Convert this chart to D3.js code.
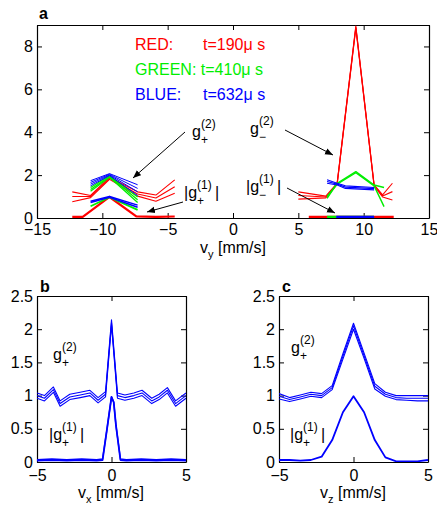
<!DOCTYPE html>
<html><head><meta charset="utf-8">
<script src="https://cdn.jsdelivr.net/npm/d3@7"></script>
<style>
body{margin:0;background:#fff}
text{font-family:"Liberation Sans",Arial,Helvetica,sans-serif}
</style>
</head><body>
<svg id="chart" width="437" height="506"></svg>
<script>
// ---------- Panel a data ----------
const aXTicks = [-15, -10, -5, 0, 5, 10, 15];
const aYTicks = [0, 2, 4, 6, 8];
// left cluster (g+)
const redLeftG2X = [-12.3, -10.9, -9.45, -7.3, -5.9, -4.46];
const redLeftG2 = [
  [1.22, 1.05, 1.90, 1.22, 1.07, 1.78],
  [1.00, 1.00, 1.85, 1.12, 0.93, 1.46],
  [0.76, 0.95, 1.80, 1.02, 0.78, 1.15]
];
const redLeftG1X = [-12.3, -11.5, -9.45, -7.4, -5.9, -4.46];
const redLeftG1 = [0.05, 0.05, 0.98, 0.08, 0.05, 0.07];
const clLeftX = [-10.9, -9.45, -7.3];
const greenLeftG2 = [
  [1.42, 1.97, 0.98],
  [1.33, 1.93, 0.85],
  [1.25, 1.90, 0.72]
];
const greenLeftG1 = [0.55, 0.97, 0.38];
const blueLeftG2 = [
  [1.74, 2.07, 1.55],
  [1.66, 2.04, 1.38],
  [1.58, 2.01, 1.22],
  [1.50, 1.98, 1.05]
];
const blueLeftG1 = [
  [0.78, 1.00, 0.60],
  [0.72, 0.97, 0.50]
];
// right cluster (g-)
const redRightG2X = [5.0, 7.1, 7.97, 9.4, 10.8, 11.45, 12.2];
const redRightG2 = [
  [1.22, 1.02, 1.63, 8.95, 1.55, 1.08, 1.62],
  [1.05, 0.98, 1.60, 8.90, 1.52, 1.03, 1.23],
  [0.88, 0.94, 1.57, 8.85, 1.49, 0.98, 0.84]
];
const greenRightG2X = [7.2, 7.97, 9.4, 10.8, 11.56];
const greenRightG2 = [
  [0.92, 1.62, 2.16, 1.54, 1.42],
  [1.00, 1.58, 2.11, 1.50, 0.53]
];
const blueRightG2X = [7.2, 7.97, 8.6, 10.8];
const blueRightG2 = [
  [1.78, 1.62, 1.50, 1.42],
  [1.70, 1.58, 1.44, 1.37],
  [1.62, 1.54, 1.38, 1.31]
];
const redRightG1X = [5.8, 12.3];
const redRightG1 = [0.04, 0.04];
const greenRightG1X = [7.2, 10.8];
const greenRightG1 = [0.04, 0.04];
const blueRightG1X = [7.9, 10.8];
const blueRightG1 = [0.04, 0.04];

// ---------- Panel b data ----------
const bcXTicks = [-5, 0, 5];
const bcYTicks = [0, 0.5, 1, 1.5, 2, 2.5];
const bcYLabels = ["0", "0.5", "1", "1.5", "2", "2.5"];
const bG2X = [-5, -4.5, -3.9, -3.45, -2.8, -2.1, -1.45, -0.9, -0.4, 0, 0.4, 0.9, 1.5, 2.05, 2.7, 3.2, 3.75, 4.3, 5];
const bG2 = [1.0, 0.96, 1.09, 0.88, 0.98, 1.01, 1.04, 0.93, 1.02, 2.1, 1.0, 0.97, 1.0, 1.04, 0.92, 0.98, 1.08, 0.88, 1.0];
const bG2Offsets = [0.04, 0, -0.04];
const bG1X = [-5, -4, -3, -2, -1, -0.6, -0.3, 0, 0.15, 0.3, 0.6, 1, 2, 3, 4, 5];
const bG1 = [0.02, 0.03, 0.02, 0.03, 0.02, 0.03, 0.5, 0.98, 0.9, 0.55, 0.03, 0.02, 0.03, 0.02, 0.03, 0.02];

// ---------- Panel c data ----------
const cX = [-5, -4.29, -3.57, -2.86, -2.14, -1.43, -0.71, 0, 0.71, 1.43, 2.14, 2.86, 3.57, 4.29, 5];
const cG2 = [
  [1.03, 0.97, 1.01, 1.05, 1.03, 1.15, 1.63, 2.09, 1.64, 1.18, 1.05, 1.00, 1.00, 1.00, 1.00],
  [0.99, 0.94, 0.98, 1.02, 1.00, 1.12, 1.59, 2.05, 1.60, 1.14, 1.02, 0.97, 0.96, 0.96, 0.96],
  [0.95, 0.91, 0.95, 0.99, 0.97, 1.09, 1.55, 2.00, 1.56, 1.10, 0.99, 0.94, 0.93, 0.92, 0.92]
];
const cG1 = [0.03, 0.03, 0.02, 0.03, 0.08, 0.33, 0.75, 0.99, 0.75, 0.33, 0.07, 0.01, 0.01, 0.01, 0.03];

const RED = "#ff0000", GREEN = "#00ee00", BLUE = "#0000ff";
const svg = d3.select("#chart");

function makePanel(box, xd, yd, xticks, yticks, ylabels, xpad) {
  const x = d3.scaleLinear().domain(xd).range([box.x0, box.x1]);
  const y = d3.scaleLinear().domain(yd).range([box.y1, box.y0]);
  const g = svg.append("g");
  const clipId = "clip" + Math.round(box.x0) + "_" + Math.round(box.y0);
  svg.append("clipPath").attr("id", clipId).append("rect")
    .attr("x", box.x0).attr("y", box.y0).attr("width", box.x1 - box.x0).attr("height", box.y1 - box.y0);
  const plot = svg.append("g").attr("clip-path", `url(#${clipId})`);
  const fmt = ylabels ? (d, i) => ylabels[i] : d3.format("~g");
  const styleAxis = sel => {
    sel.selectAll("path.domain").attr("stroke", "#000").attr("stroke-width", 1.2);
    sel.selectAll(".tick line").attr("stroke", "#000").attr("stroke-width", 1);
    sel.selectAll("text").attr("font-size", 16).attr("fill", "#000")
      .style("font-family", '"Liberation Sans",Arial,sans-serif');
  };
  const axB = g.append("g").attr("transform", `translate(0,${box.y1})`)
    .call(d3.axisBottom(x).tickValues(xticks).tickSizeInner(-5).tickSizeOuter(0).tickPadding(xpad).tickFormat(d3.format("~g")));
  styleAxis(axB);
  const axT = g.append("g").attr("transform", `translate(0,${box.y0})`)
    .call(d3.axisTop(x).tickValues(xticks).tickSizeInner(-5).tickSizeOuter(0).tickFormat(""));
  styleAxis(axT);
  const axL = g.append("g").attr("transform", `translate(${box.x0},0)`)
    .call(d3.axisLeft(y).tickValues(yticks).tickSizeInner(-5).tickSizeOuter(0).tickPadding(4).tickFormat(fmt));
  styleAxis(axL);
  const axR = g.append("g").attr("transform", `translate(${box.x1},0)`)
    .call(d3.axisRight(y).tickValues(yticks).tickSizeInner(-5).tickSizeOuter(0).tickFormat(""));
  styleAxis(axR);
  return {x, y, plot};
}

function drawLine(p, xs, ys, color, width) {
  const line = d3.line().x(d => p.x(d[0])).y(d => p.y(d[1]));
  p.plot.append("path").datum(xs.map((v, i) => [v, ys[i]]))
    .attr("d", line).attr("fill", "none").attr("stroke", color)
    .attr("stroke-width", width).attr("stroke-linejoin", "round");
}

// ---------- Panel a ----------
const pa = makePanel({x0: 37, x1: 429, y0: 25, y1: 218}, [-15, 15], [0, 9], aXTicks, aYTicks, null, 6);
// red
redLeftG2.forEach(ys => drawLine(pa, redLeftG2X, ys, RED, 1.1));
drawLine(pa, redLeftG1X, redLeftG1, RED, 2.2);
redRightG2.forEach(ys => drawLine(pa, redRightG2X, ys, RED, 1.1));
drawLine(pa, redRightG1X, redRightG1, RED, 2.6);
// green
greenLeftG2.forEach(ys => drawLine(pa, clLeftX, ys, GREEN, 1.3));
drawLine(pa, clLeftX, greenLeftG1, GREEN, 1.8);
greenRightG2.forEach(ys => drawLine(pa, greenRightG2X, ys, GREEN, 1.4));
drawLine(pa, greenRightG1X, greenRightG1, GREEN, 2.6);
// blue
blueLeftG2.forEach(ys => drawLine(pa, clLeftX, ys, BLUE, 1.0));
blueLeftG1.forEach(ys => drawLine(pa, clLeftX, ys, BLUE, 1.5));
blueRightG2.forEach(ys => drawLine(pa, blueRightG2X, ys, BLUE, 1.1));
drawLine(pa, blueRightG1X, blueRightG1, BLUE, 2.6);

// ---------- Panel b ----------
const pb = makePanel({x0: 37, x1: 186, y0: 296, y1: 462}, [-5, 5], [0, 2.5], bcXTicks, bcYTicks, bcYLabels, 8);
bG2Offsets.forEach(o => drawLine(pb, bG2X, bG2.map(v => v + o), BLUE, 1.1));
drawLine(pb, bG1X, bG1, BLUE, 1.8);
drawLine(pb, bG1X, bG1.map(v => v < 0.1 ? v + 0.015 : v), BLUE, 1.4);

// ---------- Panel c ----------
const pc = makePanel({x0: 279, x1: 428, y0: 296, y1: 462}, [-5, 5], [0, 2.5], bcXTicks, bcYTicks, bcYLabels, 8);
cG2.forEach(ys => drawLine(pc, cX, ys, BLUE, 1.1));
drawLine(pc, cX, cG1, BLUE, 1.8);

// ---------- Text ----------
function txt(x, y, s, size, color, weight) {
  return svg.append("text").attr("x", x).attr("y", y).attr("font-size", size || 16)
    .attr("fill", color || "#000").attr("font-weight", weight || "normal").text(s);
}
// panel letters
txt(39, 19, "a", 16, "#000", "bold");
txt(40, 292, "b", 16, "#000", "bold");
txt(282, 292, "c", 16, "#000", "bold");
// legend in a
txt(135, 50, "RED:", 16, RED);
txt(203, 50, "t=190\u03bc s", 16, RED);
txt(135, 75, "GREEN: t=410\u03bc s", 16, GREEN);
txt(135, 100, "BLUE:", 16, BLUE);
txt(203, 100, "t=632\u03bc s", 16, BLUE);

function g2label(x, y, sub) {
  txt(x, y, "g", 16);
  txt(x + 9, y - 9, "(2)", 12);
  txt(x + 9, y + 7, sub, 12);
}
function g1label(x, y, sub) {
  txt(x, y, "|g", 16);
  txt(x + 13, y - 9, "(1)", 12);
  txt(x + 13, y + 7, sub, 12);
  txt(x + 31, y, "|", 16);
}
g2label(192, 137, "+");
g2label(250, 134, "\u2212");
g1label(184, 198, "+");
g1label(246, 192, "\u2212");
g2label(53, 360, "+");
g1label(49, 440, "+");
g2label(291, 353, "+");
g1label(290, 440, "+");

// axis labels
function axLabel(cx, y, v) {
  const t = svg.append("text").attr("x", cx).attr("y", y).attr("font-size", 16).attr("text-anchor", "middle");
  t.append("tspan").text("v");
  t.append("tspan").attr("font-size", 11).attr("dy", 5).text(v);
  t.append("tspan").attr("dy", -5).text(" [mm/s]");
}
axLabel(233, 253, "y");
axLabel(111, 498, "x");
axLabel(353, 498, "z");

// arrows
const defs = svg.append("defs");
defs.append("marker").attr("id", "ah").attr("viewBox", "0 0 10 10").attr("refX", 10).attr("refY", 5)
  .attr("markerWidth", 8).attr("markerHeight", 8).attr("markerUnits", "userSpaceOnUse").attr("orient", "auto")
  .append("path").attr("d", "M0,1 L10,5 L0,9 Z").attr("fill", "#000");
const arrows = [
  [185, 132, 133, 178],
  [183, 202, 147, 212],
  [285, 130, 333, 155],
  [287, 188, 335, 213]
];
arrows.forEach(a => svg.append("line").attr("x1", a[0]).attr("y1", a[1]).attr("x2", a[2]).attr("y2", a[3])
  .attr("stroke", "#000").attr("stroke-width", 1).attr("marker-end", "url(#ah)"));
</script>
</body></html>
